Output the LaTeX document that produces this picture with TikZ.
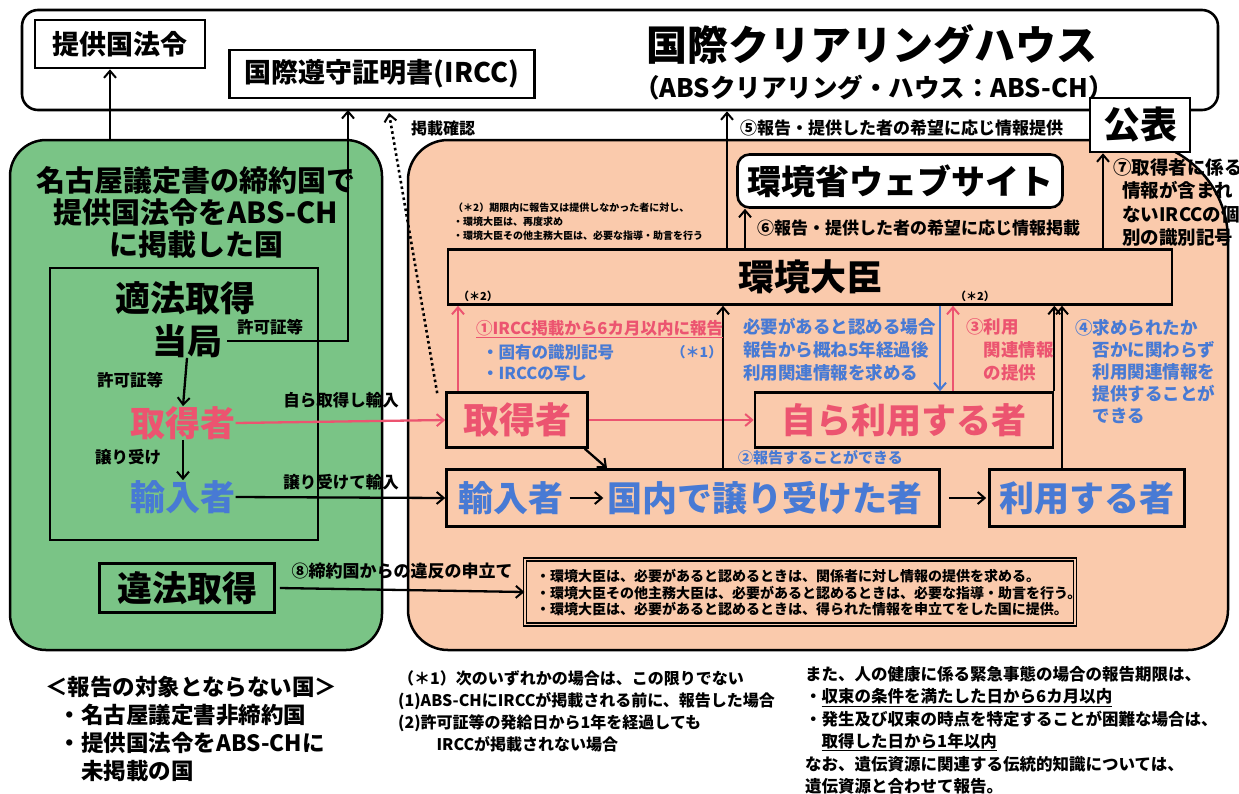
\documentclass[tikz,border=0pt]{standalone}
\usepackage{fontspec}
\setmainfont{Noto Sans CJK JP}
\usetikzlibrary{arrows.meta}
\definecolor{grn}{RGB}{122,196,134}
\definecolor{sal}{RGB}{250,202,172}
\definecolor{rd}{RGB}{236,84,112}
\definecolor{bl}{RGB}{72,122,212}
\newcommand{\myfs}[2]{\fontsize{#1}{#2}\selectfont}
\begin{document}
\begin{tikzpicture}[x=1pt,y=-1pt,
  every node/.style={inner sep=0pt, font=\bfseries},
  bx/.style={draw, line width=2.6pt, inner sep=0pt},
  arr/.style={line width=2.3pt, -{Straight Barb[length=7pt,width=12pt,line width=2pt]}},
  rarr/.style={arr, draw=rd},
  barr/.style={arr, draw=bl},
  dotarr/.style={line width=2.6pt, dash pattern=on 2.6pt off 3pt, -{Straight Barb[length=7pt,width=12pt,line width=2pt]}},
  big/.style={font=\bfseries\myfs{35}{38}},
  lab/.style={font=\bfseries\myfs{16.5}{20}},
]
\useasboundingbox (0,0) rectangle (1239,793);
% panels
\path[draw, line width=2.5pt, fill=sal] (448,140) -- (1128,140) .. controls (1183,140) and (1228,185) .. (1228,240) -- (1228,610) .. controls (1228,632) and (1210,650) .. (1188,650) -- (448,650) .. controls (426,650) and (408,632) .. (408,610) -- (408,180) .. controls (408,158) and (426,140) .. (448,140) -- cycle;
\node[draw, line width=2.5pt, fill=grn, rounded corners=36pt, minimum width=372pt, minimum height=510pt] (gp) at (196,395) {};
% top clearing house
\node[bx, rounded corners=16pt, minimum width=1196pt, minimum height=100pt] (ch) at (620,60) {};
\node[bx, minimum width=170pt, minimum height=48pt, font=\bfseries\myfs{27}{30}] (law) at (120,44) {提供国法令};
\node[bx, minimum width=305pt, minimum height=48pt, font=\bfseries\myfs{27}{30}] (ircc) at (382,74) {国際遵守証明書(IRCC)};
\node[font=\bfseries\myfs{41}{45}] (title) at (872,45) {国際クリアリングハウス};
\node[font=\bfseries\myfs{25.5}{30}] (sub) at (874,88) {（ABSクリアリング・ハウス：ABS-CH）};
\node[bx, fill=white, minimum width=100pt, minimum height=54pt, font=\bfseries\myfs{37}{40}] (pub) at (1140,125) {公表};
% green panel
\node[align=center, font=\bfseries\myfs{29}{32}] (ghead) at (196,212) {名古屋議定書の締約国で\\提供国法令をABS-CH\\に掲載した国};
\node[draw, line width=2.5pt, minimum width=268pt, minimum height=272pt] (inner) at (184,404) {};
\node[big] (tekiho) at (185,298) {適法取得};
\node[big] (kyoku) at (187,341) {当局};
\node[big, text=rd] (gacq) at (183,423) {取得者};
\node[big, text=bl] (gimp) at (183,497) {輸入者};
\node[bx, minimum width=175pt, minimum height=49pt, font=\bfseries\myfs{35}{38}] (ill) at (187,588) {違法取得};
\node[lab] (l1) at (270,327) {許可証等};
\node[lab] (l2) at (130,380) {許可証等};
\node[lab] (l3) at (128,457) {譲り受け};
\coordinate (xj) at (348,110);
\coordinate (xk) at (110,0);
\draw[arr] (gp.north -| xk) -- (law.south -| xk);
\draw[arr] ([xshift=5pt]kyoku.east) -| (xj);
\draw[arr] (kyoku.south) -- (gacq.north);
\draw[arr] (gacq.south) -- (gimp.north);
% salmon panel
\node[anchor=north west, align=left, font=\bfseries\myfs{10}{14}] (note2) at (453,203) {（＊2）期限内に報告又は提供しなかった者に対し、\\・環境大臣は、再度求め\\・環境大臣その他主務大臣は、必要な指導・助言を行う};
\node[draw, line width=2.6pt, fill=white, rounded corners=12pt, minimum width=325pt, minimum height=53pt, font=\bfseries\myfs{34}{37}] (web) at (900,181) {環境省ウェブサイト};
\node[bx, minimum width=724pt, minimum height=55pt, font=\bfseries\myfs{36}{40}] (min) at (810,277) {環境大臣};
\node[font=\bfseries\myfs{11}{12}] (s2a) at (478,296) {（＊2）};
\node[font=\bfseries\myfs{11}{12}] (s2b) at (975,296) {（＊2）};
\node[lab, anchor=west, font=\bfseries\myfs{17}{20}] (t5) at (740,128) {⑤報告・提供した者の希望に応じ情報提供};
\node[lab, anchor=west, font=\bfseries\myfs{17}{20}] (t6) at (757,228) {⑥報告・提供した者の希望に応じ情報掲載};
\node[anchor=north west, align=left, font=\bfseries\myfs{18.5}{23.5}] (t7) at (1113,158) {⑦取得者に係る\\\hspace*{0.5em}情報が含まれ\\\hspace*{0.5em}ないIRCCの個\\\hspace*{0.5em}別の識別記号};
\coordinate (xa) at (727,0);
\coordinate (xb) at (745,0);
\coordinate (xc) at (1103,0);
\draw[arr] (min.north -| xa) -- (ch.south -| xa);
\draw[arr] (min.north -| xb) -- (web.south -| xb);
\draw[arr] (min.north -| xc) -- (pub.south -| xc);
% actors
\node[bx, minimum width=141pt, minimum height=55pt, text=rd, font=\bfseries\myfs{36}{40}] (acq) at (517,420) {取得者};
\node[bx, minimum width=298pt, minimum height=55pt, text=rd, font=\bfseries\myfs{35}{40}] (self) at (904,420) {自ら利用する者};
\node[bx, minimum width=493pt, minimum height=57pt] (imp) at (693,498) {};
\node[text=bl, font=\bfseries\myfs{35}{40}] (imp1) at (511,498) {輸入者};
\node[text=bl, font=\bfseries\myfs{35}{40}] (imp2) at (765,498) {国内で譲り受けた者};
\node[bx, minimum width=195pt, minimum height=57pt, text=bl, font=\bfseries\myfs{35}{40}] (user) at (1087,498) {利用する者};
\draw[arr, shorten <=6pt, shorten >=4pt] (imp1.east) -- (imp2.west);
\draw[arr] ([xshift=8pt]imp.east) -- ([xshift=-2pt]user.west);
\draw[rarr] (acq.east) -- (self.west);
\coordinate (xdg) at (607,0);
\draw[arr] ([xshift=-4pt]acq.south east) -- (imp.north -| xdg);
\draw[rarr] (gacq.east) -- (acq.west);
\draw[arr] (gimp.east) -- (imp.west);
\node[lab] (l4) at (341,400) {自ら取得し輸入};
\node[lab] (l5) at (341,482) {譲り受けて輸入};
% vertical arrows to minister
\coordinate (xd) at (458,0);
\coordinate (xe) at (723,0);
\coordinate (xf) at (940,0);
\coordinate (xg) at (953,0);
\coordinate (xi) at (1062,0);
\coordinate (dotend) at (389,113);
\draw[rarr] (acq.north -| xd) -- (min.south -| xd);
\draw[arr] (imp.north -| xe) -- (min.south -| xe);
\draw[barr] (min.south -| xf) -- (self.north -| xf);
\draw[rarr] (self.north -| xg) -- (min.south -| xg);
\draw[arr] (self.north east) -- (min.south -| self.north east);
\draw[arr] (user.north -| xi) -- (min.south -| xi);
\draw[dotarr] ([xshift=-8pt,yshift=-2pt]acq.north west) -- (dotend);
\node[lab, anchor=west, font=\bfseries\myfs{16}{18}] (d1) at (411,128) {掲載確認};
% labels in salmon
\node[anchor=west, text=rd, font=\bfseries\myfs{16.5}{20}] (t1) at (476,329) {\underline{①IRCC掲載から6カ月以内に報告}};
\node[anchor=west, text=bl, font=\bfseries\myfs{16.5}{20}] (t1a) at (482,352) {・固有の識別記号};
\node[anchor=west, text=bl, font=\bfseries\myfs{16.5}{20}] (t1b) at (482,374) {・IRCCの写し};
\node[text=bl, font=\bfseries\myfs{14}{16}] (s1) at (697,352) {（＊1）};
\node[anchor=west, text=bl, font=\bfseries\myfs{15}{20}] (t2) at (738,458) {②報告することができる};
\node[anchor=north east, align=left, text=bl, font=\bfseries\myfs{17.5}{23}] (tb) at (936,318) {必要があると認める場合\\報告から概ね5年経過後\\利用関連情報を求める};
\node[anchor=north west, align=left, text=rd, font=\bfseries\myfs{17.5}{23}] (t3) at (966,318) {③利用\\\hspace*{1em}関連情報\\\hspace*{1em}の提供};
\node[anchor=north west, align=left, text=bl, font=\bfseries\myfs{17.5}{22}] (t4) at (1075,319) {④求められたか\\\hspace*{1em}否かに関わらず\\\hspace*{1em}利用関連情報を\\\hspace*{1em}提供することが\\\hspace*{1em}できる};
% bottom box
\node[draw, line width=1.3pt, double=sal, double distance=1.6pt, fill=sal, minimum width=550pt, minimum height=65pt] (req) at (800,592) {};
\node[anchor=west, align=left, font=\bfseries\myfs{14}{16.5}] (reqt) at (536,593) {・環境大臣は、必要があると認めるときは、関係者に対し情報の提供を求める。\\・環境大臣その他主務大臣は、必要があると認めるときは、必要な指導・助言を行う。\\・環境大臣は、必要があると認めるときは、得られた情報を申立てをした国に提供。};
\draw[arr] ([xshift=4pt]ill.east) -- (req.west);
\node[lab, font=\bfseries\myfs{17}{20}] (t8) at (402,571) {⑧締約国からの違反の申立て};
% bottom texts
\node[anchor=north west, align=left, font=\bfseries\myfs{22.5}{28}] (nb) at (45,676) {＜報告の対象とならない国＞\\\hspace*{0.6em}・名古屋議定書非締約国\\\hspace*{0.6em}・提供国法令をABS-CHに\\\hspace*{1.6em}未掲載の国};
\node[anchor=north west, align=left, font=\bfseries\myfs{16}{22}] (nm) at (398,670) {（＊1）次のいずれかの場合は、この限りでない\\(1)ABS-CHにIRCCが掲載される前に、報告した場合\\(2)許可証等の発給日から1年を経過しても\\\hspace*{2.4em}IRCCが掲載されない場合};
\node[anchor=north west, align=left, font=\bfseries\myfs{16.5}{22.4}] (nr) at (805,666) {また、人の健康に係る緊急事態の場合の報告期限は、\\・\underline{収束の条件を満たした日から6カ月以内}\\・発生及び収束の時点を特定することが困難な場合は、\\\hspace*{1em}\underline{取得した日から1年以内}\\なお、遺伝資源に関連する伝統的知識については、\\遺伝資源と合わせて報告。};
\end{tikzpicture}
\end{document}
